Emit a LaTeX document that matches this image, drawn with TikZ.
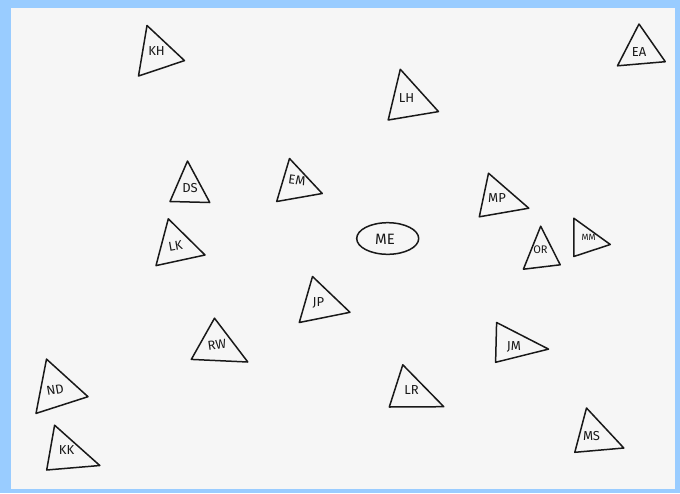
\documentclass[tikz,border=0pt]{standalone}
\usepackage{fontspec}
\setsansfont{Fira Sans}
\usepackage{xcolor}
\usepackage{tikz}

\begin{document}
\begin{tikzpicture}[x=1pt,y=-1pt]
  \definecolor{lframe}{RGB}{153,204,255}
  \definecolor{lpaper}{RGB}{246,246,246}
  \definecolor{lpen}{RGB}{25,25,25}
  \tikzset{pen/.style={draw=lpen,line width=1.5pt,line join=round},
    initials/.style={font=\sffamily\fontsize{13}{14}\selectfont,text=lpen,inner sep=0pt}}
  \fill[lframe] (0,0) rectangle (680,493);
  \fill[lpaper] (11,8) rectangle (675,489);
  \useasboundingbox (0,0) rectangle (680,493);
  % left group
  \draw[pen] (147,25.5) -- (184.5,60.6) -- (138.5,76) -- cycle;
  \node[initials] (kh) at (156.5,51.5) {KH};
  \draw[pen] (187.5,161) -- (209.8,202.5) -- (170,201.5) -- cycle;
  \node[initials] (ds) at (190,188) {DS};
  \draw[pen] (289.5,158.5) -- (322.2,193.5) -- (276.7,201.5) -- cycle;
  \node[initials,rotate=-8] (em) at (297,180) {EM};
  \draw[pen] (168.3,218.8) -- (205,255) -- (156,265.6) -- cycle;
  \node[initials,rotate=10] (lk) at (175.5,246) {LK};
  \draw[pen] (312.5,276.5) -- (350,312.3) -- (299.3,322.5) -- cycle;
  \node[initials] (jp) at (318.5,303) {JP};
  \draw[pen] (214.5,318.2) -- (247.8,362) -- (191.3,359.4) -- cycle;
  \node[initials,rotate=8] (rw) at (217,345) {RW};
  \draw[pen] (46.5,359.1) -- (88,396.7) -- (36,413.4) -- cycle;
  \node[initials,rotate=10] (nd) at (55,390) {ND};
  \draw[pen] (54.6,425.2) -- (99.8,465.5) -- (46.7,470) -- cycle;
  \node[initials] (kk) at (66.5,450) {KK};
  % the centre
  \draw[pen] (387.7,238.5) ellipse (31 and 15.8);
  \node[initials,font=\sffamily\fontsize{15}{16}\selectfont] (me) at (385,239.5) {ME};
  % right group
  \draw[pen] (400.3,69.3) -- (438.5,111.6) -- (388.2,120) -- cycle;
  \node[initials] (lh) at (406.5,98.5) {LH};
  \draw[pen] (639,24) -- (665.3,61.7) -- (617.5,65.8) -- cycle;
  \node[initials] (ea) at (639,52.5) {EA};
  \draw[pen] (488.5,173.2) -- (528.8,208.2) -- (479.3,216.8) -- cycle;
  \node[initials] (mp) at (497,198.5) {MP};
  \draw[pen] (540.7,226.2) -- (560.2,264.8) -- (523.4,269.2) -- cycle;
  \node[initials,font=\sffamily\fontsize{11}{12}\selectfont] (or) at (540.5,249.5) {OR};
  \draw[pen] (573.8,218.2) -- (610.3,244.5) -- (573.8,256.5) -- cycle;
  \node[initials,font=\sffamily\fontsize{9}{10}\selectfont] (mm) at (588.5,237.5) {MM};
  \draw[pen] (496.6,322.5) -- (548.5,349.1) -- (495.6,362.3) -- cycle;
  \node[initials] (jm) at (514,347) {JM};
  \draw[pen] (402.8,364.8) -- (443.8,406.7) -- (389.3,407) -- cycle;
  \node[initials] (lr) at (411.5,390) {LR};
  \draw[pen] (586.5,408) -- (623.8,448) -- (574.8,452.3) -- cycle;
  \node[initials] (ms) at (591.5,436.5) {MS};
\end{tikzpicture}
\end{document}
